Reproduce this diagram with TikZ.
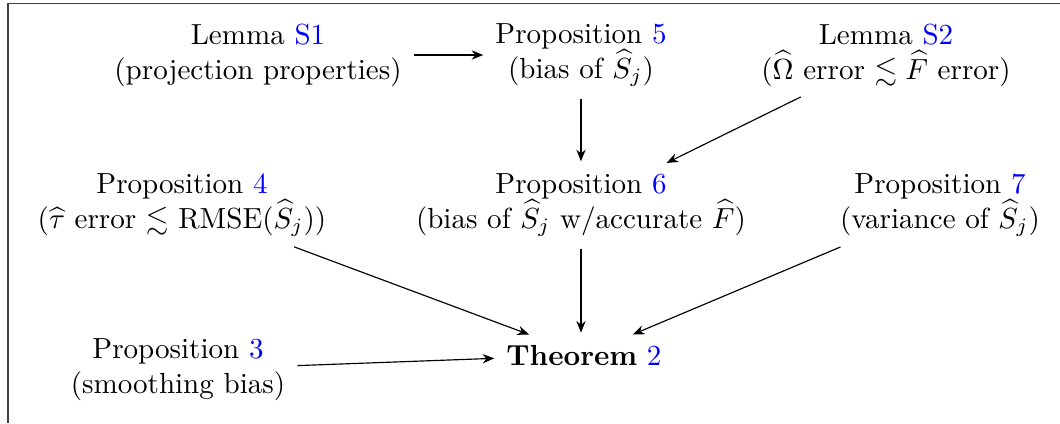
\documentclass[tikz,border=0pt]{standalone}
\usepackage{amsmath,amssymb}
\usetikzlibrary{arrows.meta}
\begin{document}
\begin{tikzpicture}[x=0.344pt,y=-0.344pt,
  res/.style={align=center, inner sep=3pt},
  conn/.style={-{Stealth[length=4pt,width=3.2pt]}, line width=0.4pt, shorten >=1pt, shorten <=1pt}]
\useasboundingbox (0,0) rectangle (1060,423);
\draw[line width=0.6pt, black!75] (8,423) -- (8,3.5) -- (1060,3.5);
\newcommand{\rf}[1]{\textcolor{blue}{#1}}
\node[res] (s1) at (258,55) {Lemma \rf{S1}\\(projection properties)};
\node[res] (p5) at (581,55) {Proposition \rf{5}\\(bias of $\widehat{S}_j$)};
\node[res] (s2) at (886,55) {Lemma \rf{S2}\\($\widehat{\Omega}$ error $\lesssim \widehat{F}$ error)};
\node[res] (p4) at (182,205) {Proposition \rf{4}\\($\widehat{\tau}$ error $\lesssim$ RMSE($\widehat{S}_j$))};
\node[res] (p6) at (581,205) {Proposition \rf{6}\\(bias of $\widehat{S}_j$ w/accurate $\widehat{F}$)};
\node[res] (p7) at (940,205) {Proposition \rf{7}\\(variance of $\widehat{S}_j$)};
\node[res] (p3) at (178,370) {Proposition \rf{3}\\(smoothing bias)};
\node[res] (th) at (584,355) {\textbf{Theorem} \rf{2}};
\draw[conn] (s1) -- (p5);
\draw[conn] (p5) -- (p6);
\draw[conn] (s2) -- (p6);
\draw[conn] (p4) -- (th);
\draw[conn] (p6.south) -- (p6.south |- th.north);
\draw[conn] (p7) -- (th);
\draw[conn] (p3) -- (th);
\end{tikzpicture}
\end{document}
